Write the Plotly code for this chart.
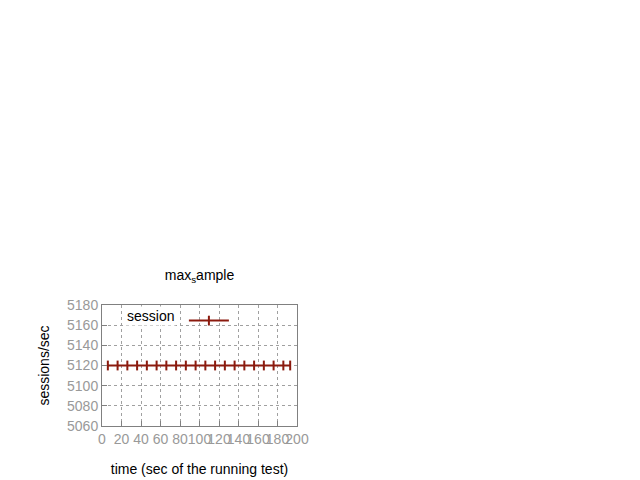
import plotly.graph_objects as go

x_vals = [6, 16, 26, 36, 46, 56, 66, 76, 86, 96, 106, 116, 126, 136, 146, 156, 166, 176, 186, 193]
y_vals = [5120] * len(x_vals)
x_ticks = list(range(0, 201, 20))
y_ticks = list(range(5060, 5181, 20))
color = "#8b1a0e"
grey = "#999999"

fig = go.Figure()
fig.add_trace(go.Scatter(x=x_vals, y=y_vals, mode="lines+markers", name=" ",
                         line=dict(color=color, width=2),
                         marker=dict(symbol="line-ns", size=7, line=dict(color=color, width=2))))
axis_common = dict(showgrid=True, gridcolor="#a0a0a0", griddash="dot", gridwidth=1,
                   showline=True, linecolor="#808080", mirror=True, zeroline=False,
                   ticks="inside", tickcolor="#808080", ticklen=5, automargin=False,
                   tickfont=dict(color=grey, size=14, family="Liberation Sans"))
fig.update_xaxes(range=[0, 200], tickvals=x_ticks, tickangle=0,
                 title=dict(text="time (sec of the running test)", standoff=18,
                 font=dict(size=14, color="black")), **axis_common)
fig.update_yaxes(range=[5060, 5180], tickvals=y_ticks,
                 title=dict(text="sessions/sec", standoff=14,
                 font=dict(size=14, color="black")), **axis_common)
fig.update_layout(
    width=640, height=480, plot_bgcolor="white", paper_bgcolor="white",
    margin=dict(l=94, r=351, t=297, b=62),
    font=dict(family="Liberation Sans", size=14, color="black"),
    title=dict(text="max<sub>s</sub>ample", x=(94 + 289) / 2 / 640, xanchor="center", y=1 - 267 / 480, yanchor="middle",
               font=dict(size=14)),
    showlegend=True,
    legend=dict(x=0.42, y=1.0, xanchor="left", yanchor="top", bgcolor="rgba(0,0,0,0)",
                itemwidth=40, font=dict(size=14)),
    annotations=[dict(text="session", x=0.25, y=0.995, xref="paper", yref="paper", xanchor="center",
                      yanchor="top", showarrow=False, font=dict(size=14), bgcolor="white")],
)
fig.write_html("out.html")
